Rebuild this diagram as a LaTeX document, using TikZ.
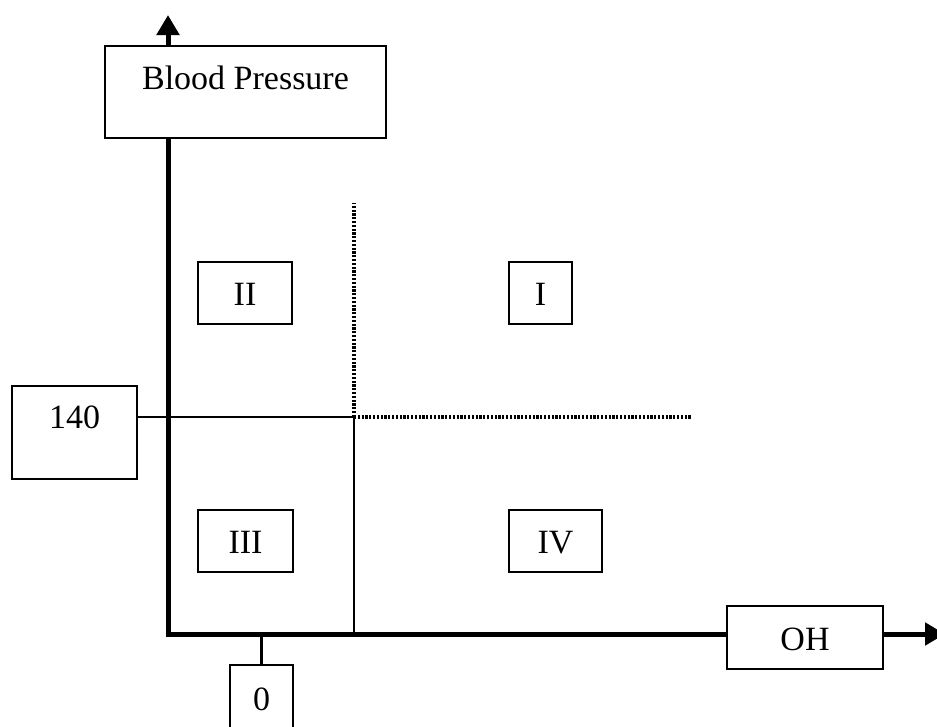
\documentclass[tikz,border=0pt]{standalone}
\usepackage{fontspec}
\setmainfont{Liberation Serif}
\usetikzlibrary{arrows.meta}
\tikzset{
    axis/.style={line width=5pt, -{Triangle[length=20pt,width=22pt]}},
    thin/.style={line width=2.6pt},
    dots/.style={line width=3.2pt, dash pattern=on 2.2pt off 1.6pt},
    lbl/.style={draw, line width=2.6pt, fill=white, inner sep=0pt, anchor=base,
        font=\fontsize{34}{40}\selectfont}
}
\begin{document}
\begin{tikzpicture}[x=1pt, y=-1pt]
            \useasboundingbox (0,0) rectangle (937,726);
            \coordinate (O) at (168,634);
            \coordinate (ytip) at (168,15);
            \coordinate (xtip) at (945,634);
            \coordinate (split) at (354,417);
            \coordinate (dtop) at (354,203);
            \coordinate (dend) at (692,417);

            % axes
            \draw[axis] ([yshift=-2.5pt]O) -- (ytip);
            \draw[axis] ([xshift=-2.5pt]O) -- (xtip);

            % quadrant lines
            \draw[dots] (split) -- (dtop);
            \draw[dots] (split) -- (dend);
            \draw[thin] (split) -- (split |- O);

            % labels on axes
            \node[lbl, minimum width=281pt, text height=43pt, text depth=49pt] (bp) at (245.5,89) {Blood Pressure};
            \node[lbl, minimum width=156pt, text height=44pt, text depth=19pt] (oh) at (805,650) {OH};
            \node[lbl, minimum width=125pt, text height=42pt, text depth=51pt] (lim) at (74.5,428) {140\hspace{24pt}};
            \node[lbl, minimum width=63pt, text height=45pt, text depth=35pt] (zero) at (261.5,710) {0};
            \draw[thin] (lim.east |- split) -- (split);
            \draw[thin] (zero.north) -- (zero.north |- O);

            % quadrants
            \foreach \q/\x/\y/\w/\t in {qI/540.5/305/63/I, qII/245/305/94/II\hspace{17pt},
                                      qIII/245.5/553/95/III\hspace{7pt}, qIV/555.5/553/93/IV\hspace{5pt}}
                \node[lbl, minimum width=\w pt, text height=43pt, text depth=19pt] (\q) at (\x,\y) {\t};
        \end{tikzpicture}
\end{document}
